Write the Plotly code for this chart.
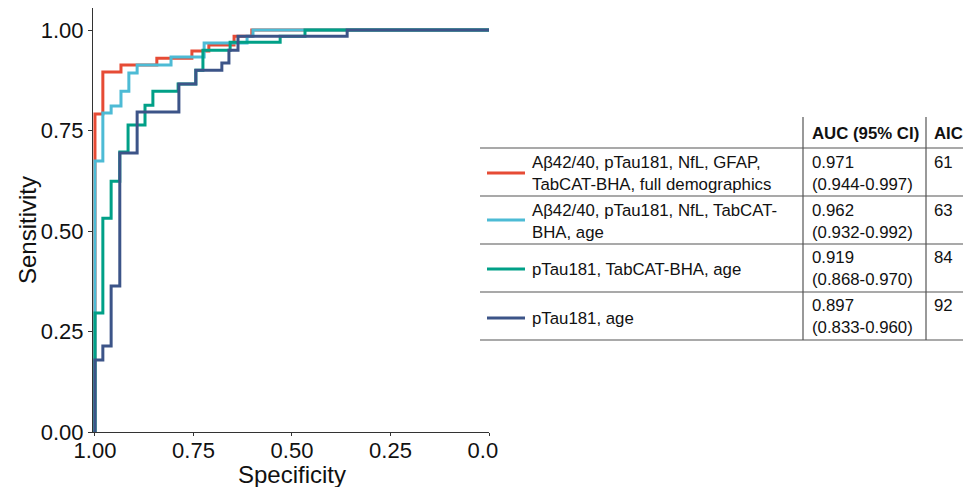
import plotly.graph_objects as go

# ---- data (ROC vertices) ----
labels = [
    ["Aβ42/40, pTau181, NfL, GFAP,", "TabCAT-BHA, full demographics"],
    ["Aβ42/40, pTau181, NfL, TabCAT-", "BHA, age"],
    ["pTau181, TabCAT-BHA, age"],
    ["pTau181, age"],
]
auc = ["0.971", "0.962", "0.919", "0.897"]
auc_ci = ["(0.944-0.997)", "(0.932-0.992)", "(0.868-0.970)", "(0.833-0.960)"]
aic = ["61", "63", "84", "92"]
colors = ["#E64B35", "#4DBBD5", "#00A087", "#3C5488"]

spec_red = [1.000, 1.000, 0.980, 0.980, 0.934, 0.934, 0.843, 0.843, 0.754, 0.754,
            0.711, 0.711, 0.647, 0.647, 0.602, 0.602, 0.0]
sens_red = [0.000, 0.791, 0.791, 0.896, 0.896, 0.913, 0.913, 0.930, 0.930, 0.948,
            0.948, 0.963, 0.963, 0.985, 0.985, 1.000, 1.000]

spec_cyan = [1.000, 1.000, 0.980, 0.980, 0.959, 0.959, 0.934, 0.934, 0.914, 0.914,
             0.893, 0.893, 0.807, 0.807, 0.723, 0.723, 0.614, 0.614, 0.599, 0.599, 0.0]
sens_cyan = [0.000, 0.674, 0.674, 0.794, 0.794, 0.811, 0.811, 0.848, 0.848, 0.893,
             0.893, 0.913, 0.913, 0.933, 0.933, 0.968, 0.968, 0.985, 0.985, 1.000, 1.000]

spec_green = [1.000, 1.000, 0.980, 0.980, 0.959, 0.959, 0.937, 0.937, 0.916, 0.916,
              0.873, 0.873, 0.853, 0.853, 0.789, 0.789, 0.744, 0.744, 0.726, 0.726,
              0.657, 0.657, 0.530, 0.530, 0.467, 0.467, 0.0]
sens_green = [0.000, 0.296, 0.296, 0.532, 0.532, 0.624, 0.624, 0.697, 0.697, 0.764,
              0.764, 0.813, 0.813, 0.848, 0.848, 0.866, 0.866, 0.900, 0.900, 0.950,
              0.950, 0.970, 0.970, 0.985, 0.985, 1.000, 1.000]

spec_navy = [1.000, 1.000, 0.980, 0.980, 0.959, 0.959, 0.937, 0.937, 0.893, 0.893,
             0.787, 0.787, 0.744, 0.744, 0.678, 0.678, 0.660, 0.660, 0.637, 0.637,
             0.360, 0.360, 0.0]
sens_navy = [0.000, 0.179, 0.179, 0.214, 0.214, 0.363, 0.363, 0.694, 0.694, 0.796,
             0.796, 0.866, 0.866, 0.900, 0.900, 0.918, 0.918, 0.950, 0.950, 0.985,
             0.985, 1.000, 1.000]

x_ticks = [1.0, 0.75, 0.5, 0.25, 0.0]
x_ticktext = ["1.00", "0.75", "0.50", "0.25", "0.0\u2007"]
y_ticks = [0.0, 0.25, 0.5, 0.75, 1.0]
y_ticktext = ["0.00", "0.25", "0.50", "0.75", "1.00"]
x_title = "Specificity"
y_title = "Sensitivity"

FONT = "Liberation Sans, Arial, Helvetica, sans-serif"
TS = 16.8
TXT = "#111111"
W, H = 963, 487
L, R, T, B = 93, 489, 8, 432


def px(x):
    return (x - L) / (R - L)


def py(y):
    return (B - y) / (B - T)


fig = go.Figure()
for xs, ys, c in [(spec_red, sens_red, colors[0]), (spec_cyan, sens_cyan, colors[1]),
                  (spec_green, sens_green, colors[2]), (spec_navy, sens_navy, colors[3])]:
    fig.add_trace(go.Scatter(x=xs, y=ys, mode="lines", line=dict(color=c, width=3),
                             showlegend=False, hoverinfo="skip"))

shapes = []
annotations = []
grid_col = "#555555"


def note(text, x, y, size=TS, xanchor="left", **kw):
    annotations.append(dict(text=text, xref="paper", yref="paper", x=px(x), y=py(y),
                            xanchor=xanchor, yanchor="middle", showarrow=False,
                            font=dict(family=FONT, size=size, color=TXT), align="left", **kw))


# horizontal rules
for yy in [148, 196, 244, 292, 340]:
    shapes.append(dict(type="line", xref="paper", yref="paper", x0=px(480), x1=px(963),
                       y0=py(yy), y1=py(yy), line=dict(color=grid_col, width=1.2)))
# vertical rules
for xx in [803, 926]:
    shapes.append(dict(type="line", xref="paper", yref="paper", x0=px(xx), x1=px(xx),
                       y0=py(117), y1=py(340), line=dict(color=grid_col, width=1.2)))

# header
note("<b>AUC (95% CI)</b>", 810, 133)
note("<b>AIC</b>", 932, 133)

row_mid = [173, 221, 268, 316]
swatch_y = [173, 220, 269, 318]
half = TS * 1.3 / 2
for i in range(4):
    shapes.append(dict(type="line", xref="paper", yref="paper", x0=px(487), x1=px(525),
                       y0=py(swatch_y[i]), y1=py(swatch_y[i]),
                       line=dict(color=colors[i], width=3)))
    lab_y = row_mid[i] if len(labels[i]) == 2 else swatch_y[i]
    note("<br>".join(labels[i]), 530, lab_y)
    note(auc[i] + "<br>" + auc_ci[i], 810, row_mid[i])
    note(aic[i], 932, row_mid[i] - half)

# axis titles
note(x_title, 292, 474, size=24, xanchor="center")
note(y_title, 27, 230, size=24, xanchor="center", textangle=-90)

fig.update_layout(
    width=W, height=H,
    margin=dict(l=L, r=W - R, t=T, b=H - B, pad=0),
    paper_bgcolor="white", plot_bgcolor="white",
    font=dict(family=FONT, color=TXT),
    shapes=shapes, annotations=annotations,
    xaxis=dict(range=[1.005, 0.0], tickvals=x_ticks, ticktext=x_ticktext,
               showgrid=False, zeroline=False, showline=True, linecolor="#333333",
               linewidth=1, ticks="outside", ticklen=3, tickcolor="#333333",
               ticklabelstandoff=-4,
               tickfont=dict(size=22, family=FONT, color=TXT)),
    yaxis=dict(range=[0.0, 1.055], tickvals=y_ticks, ticktext=y_ticktext,
               showgrid=False, zeroline=False, showline=True, linecolor="#333333",
               linewidth=1, ticks="outside", ticklen=4, tickcolor="#333333",
               tickfont=dict(size=22, family=FONT, color=TXT)),
)

fig.write_html("out.html", post_script="document.body.style.margin='0px';",
               config={"displayModeBar": False})
